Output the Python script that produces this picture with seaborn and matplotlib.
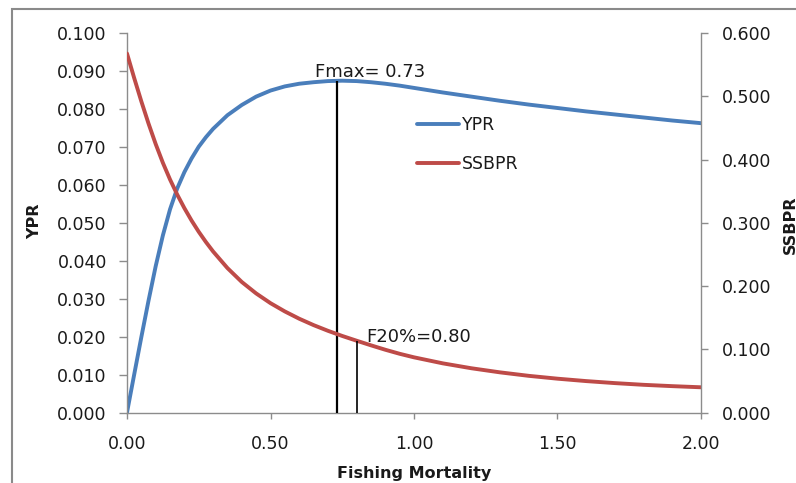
import numpy as np
import pandas as pd
import matplotlib
matplotlib.use("Agg")
import matplotlib.pyplot as plt
from matplotlib.patches import Rectangle
from matplotlib.lines import Line2D
import seaborn as sns

# Fishing mortality grid and per-recruit values
fishing_mortality = [0.0, 0.025, 0.05, 0.075, 0.10, 0.125, 0.15, 0.175, 0.20, 0.225,
                     0.25, 0.275, 0.30, 0.35, 0.40, 0.45, 0.50, 0.55, 0.60, 0.65,
                     0.70, 0.75, 0.80, 0.85, 0.90, 0.95, 1.00, 1.10, 1.20, 1.30,
                     1.40, 1.50, 1.60, 1.70, 1.80, 1.90, 2.00]
ypr = [0.0, 0.0100, 0.0199, 0.0295, 0.0386, 0.0467, 0.0536, 0.0591, 0.0634, 0.0670,
       0.0701, 0.0726, 0.0748, 0.0784, 0.0811, 0.0833, 0.0849, 0.0860, 0.0867, 0.0871,
       0.0874, 0.0875, 0.0874, 0.0871, 0.0867, 0.0862, 0.0856, 0.0844, 0.0833, 0.0822,
       0.0812, 0.0803, 0.0794, 0.0786, 0.0778, 0.0770, 0.0763]
ssbpr = [0.568, 0.5293, 0.4922, 0.4572, 0.4247, 0.3951, 0.3686, 0.3448, 0.3233, 0.3037,
         0.2859, 0.2697, 0.2548, 0.2285, 0.2065, 0.1884, 0.1730, 0.1599, 0.1484, 0.1383,
         0.1293, 0.1211, 0.1136, 0.1063, 0.0993, 0.0929, 0.0873, 0.0778, 0.0700, 0.0635,
         0.0580, 0.0535, 0.0497, 0.0465, 0.0438, 0.0417, 0.0399]

# Reference points
f_max = 0.73
f_20 = 0.80

x_ticks = [0.0, 0.5, 1.0, 1.5, 2.0]
ypr_ticks = [0.00, 0.01, 0.02, 0.03, 0.04, 0.05, 0.06, 0.07, 0.08, 0.09, 0.10]
ssbpr_ticks = [0.0, 0.1, 0.2, 0.3, 0.4, 0.5, 0.6]

df = pd.DataFrame({"F": fishing_mortality, "YPR": ypr, "SSBPR": ssbpr})

sns.set_theme(style="white")
plt.rcParams["font.family"] = ["DejaVu Sans"]

BLUE = "#4A7EBB"
RED = "#BE4B48"
AXIS_GREY = "#8C8C8C"
TEXT = "#1A1A1A"

fig = plt.figure(figsize=(7.96, 4.83), dpi=100)
ax = fig.add_axes([127 / 796, 1 - 412.5 / 483, 574 / 796, 379.2 / 483])
ax2 = ax.twinx()

line_kw = dict(linewidth=2.8, legend=False, solid_capstyle="round", solid_joinstyle="round")
sns.lineplot(data=df, x="F", y="YPR", ax=ax, color=BLUE, **line_kw)
sns.lineplot(data=df, x="F", y="SSBPR", ax=ax2, color=RED, **line_kw)

# Vertical markers at Fmax and F20%
ypr_at_fmax = np.interp(f_max, df["F"], df["YPR"])
ssb_at_f20 = np.interp(f_20, df["F"], df["SSBPR"])
ax.vlines(f_max, 0, ypr_at_fmax, color="black", linewidth=1.6, zorder=5)
ax2.vlines(f_20, 0, ssb_at_f20, color="black", linewidth=1.2, zorder=5)

ax.text(0.655, 0.0884, f"Fmax= {f_max:.2f}", fontsize=13, color=TEXT,
        ha="left", va="baseline")
ax.text(0.835, 0.0187, f"F20%={f_20:.2f}", fontsize=13, color=TEXT,
        ha="left", va="baseline")

ax.set_xlim(0, 2)
ax.set_ylim(0, 0.1)
ax2.set_ylim(0, 0.6)
ax.set_xticks(x_ticks)
ax.set_xticklabels([f"{v:.2f}" for v in x_ticks])
ax.set_yticks(ypr_ticks)
ax.set_yticklabels([f"{v:.3f}" for v in ypr_ticks])
ax2.set_yticks(ssbpr_ticks)
ax2.set_yticklabels([f"{v:.3f}" for v in ssbpr_ticks])

for a in (ax, ax2):
    a.spines["top"].set_visible(False)
    for s in a.spines.values():
        s.set_color(AXIS_GREY)
        s.set_linewidth(1.0)
    a.grid(False)
ax.spines["right"].set_visible(False)
ax2.spines["left"].set_visible(False)
ax2.spines["bottom"].set_visible(False)

ax.tick_params(axis="x", direction="out", length=4, width=1, color=AXIS_GREY,
               labelsize=12.5, labelcolor=TEXT, pad=12, bottom=True)
ax.tick_params(axis="y", direction="out", length=6, width=1, color=AXIS_GREY,
               labelsize=12.5, labelcolor=TEXT, pad=8.5, left=True)
ax2.tick_params(axis="y", direction="out", length=5, width=1, color=AXIS_GREY,
                labelsize=12.5, labelcolor=TEXT, pad=10, right=True)

ax.set_xlabel("Fishing Mortality", fontsize=11.5, fontweight="bold", color=TEXT)
ax.xaxis.set_label_coords(0.5, -(466 - 412.5) / 379.2)
ax.set_ylabel("")
ax2.set_ylabel("")
fig.text(35 / 796, 1 - 221 / 483, "YPR", rotation=90, fontsize=11.5,
         fontweight="bold", color=TEXT, ha="center", va="center")
fig.text(783 / 796, 1 - 225 / 483, "SSBPR", rotation=90, fontsize=11.5,
         fontweight="bold", color=TEXT, ha="left", va="center")

handles = [Line2D([], [], color=BLUE, linewidth=2.8),
           Line2D([], [], color=RED, linewidth=2.8)]
ax.legend(handles, ["YPR", "SSBPR"], loc="center left",
          bbox_to_anchor=((416.7 - 127) / 574, (412.5 - 144.5) / 379.2),
          frameon=False, fontsize=12.5, handlelength=2.45, handletextpad=0.15,
          labelspacing=1.25, borderpad=0, borderaxespad=0, labelcolor=TEXT)

# Chart-area border
fig.patches.append(Rectangle((12 / 796, -0.5), 2.0, 1.5 - 9 / 483,
                             transform=fig.transFigure, fill=False,
                             edgecolor="#8A8A8A", linewidth=1.5))

fig.savefig("out.png", dpi=100)
